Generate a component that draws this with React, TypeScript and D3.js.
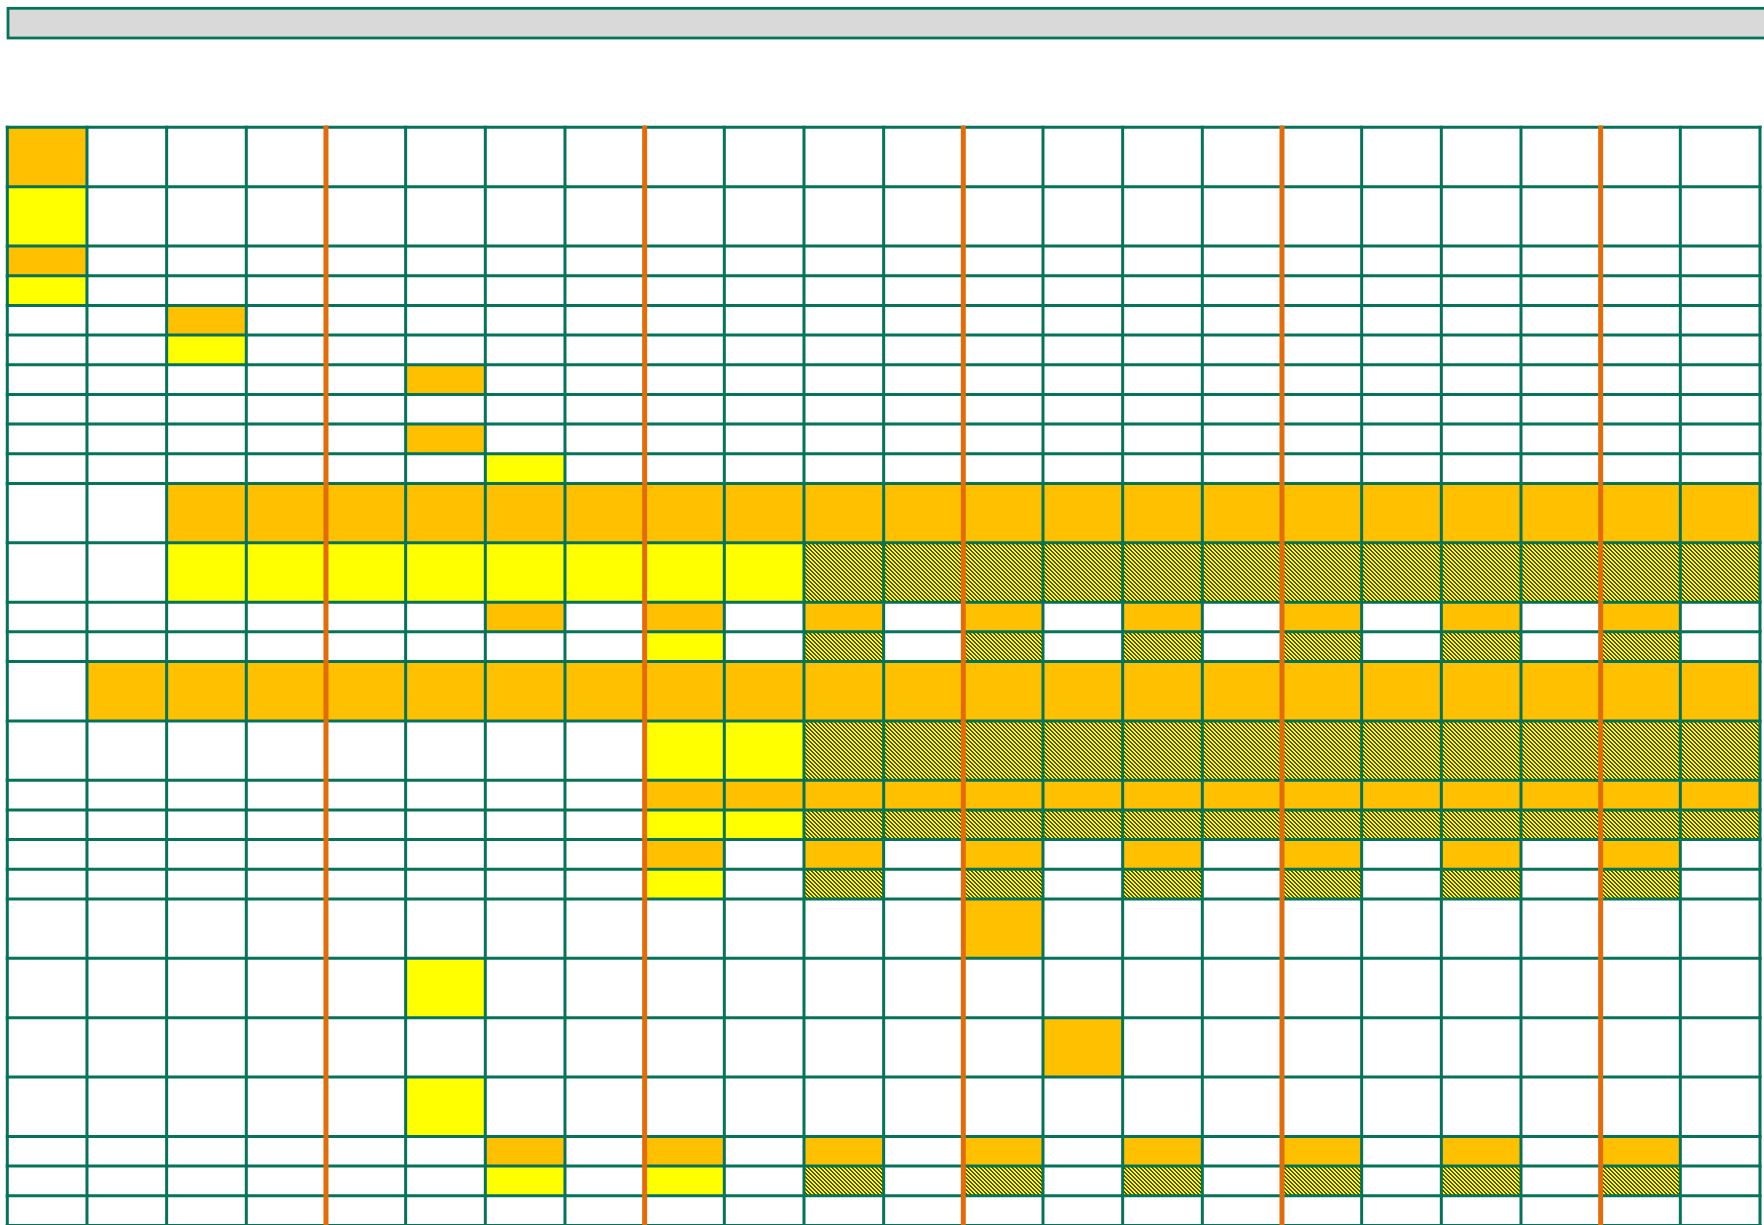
import React, { useRef, useEffect } from "react";
import * as d3 from "d3";

// one entry per row: 2 = tall row, 1 = short row
const rowUnits = [2, 2, 1, 1, 1, 1, 1, 1, 1, 1, 2, 2, 1, 1, 2, 2, 1, 1, 1, 1, 2, 2, 2, 2, 1, 1, 1];

// O = orange, Y = yellow, H = hatched, . = empty (22 columns)
const rowCells = [
  "O.....................",
  "Y.....................",
  "O.....................",
  "Y.....................",
  "..O...................",
  "..Y...................",
  ".....O................",
  "......................",
  ".....O................",
  "......Y...............",
  "..OOOOOOOOOOOOOOOOOOOO",
  "..YYYYYYYYHHHHHHHHHHHH",
  "......O.O.O.O.O.O.O.O.",
  "........Y.H.H.H.H.H.H.",
  ".OOOOOOOOOOOOOOOOOOOOO",
  "........YYHHHHHHHHHHHH",
  "........OOOOOOOOOOOOOO",
  "........YYHHHHHHHHHHHH",
  "........O.O.O.O.O.O.O.",
  "........Y.H.H.H.H.H.H.",
  "............O.........",
  ".....Y................",
  ".............O........",
  ".....Y................",
  "......O.O.O.O.O.O.O.O.",
  "......Y.Y.H.H.H.H.H.H.",
  "......................",
];

const columnCount = 22;
const milestoneColumns = [4, 8, 12, 16, 20];

const GREEN = "#04735a";
const ORANGE_LINE = "#e36c0a";
const fills: Record<string, string> = {
  O: "#ffc000",
  Y: "#ffff00",
  H: "url(#hatch)",
};

const App: React.FC = () => {
  const svgRef = useRef<SVGSVGElement | null>(null);

  useEffect(() => {
    const width = 1764;
    const height = 1225;
    const svg = d3.select(svgRef.current).attr("width", width).attr("height", height);
    svg.selectAll("*").remove();

    const defs = svg.append("defs");
    const pat = defs
      .append("pattern")
      .attr("id", "hatch")
      .attr("patternUnits", "userSpaceOnUse")
      .attr("width", 4)
      .attr("height", 4);
    pat.append("rect").attr("width", 4).attr("height", 4).attr("fill", "#ffff00");
    const darkPx = [
      [0, 0], [1, 0], [1, 1], [2, 1], [2, 2], [3, 2], [3, 3], [0, 3],
    ];
    pat
      .selectAll("rect.d")
      .data(darkPx)
      .join("rect")
      .attr("class", "d")
      .attr("x", (d) => d[0])
      .attr("y", (d) => d[1])
      .attr("width", 1)
      .attr("height", 1)
      .attr("fill", "#4f4f08");

    // header bar
    svg
      .append("rect")
      .attr("x", 8)
      .attr("y", 8.3)
      .attr("width", width + 10)
      .attr("height", 29.7)
      .attr("fill", "#d9d9d9")
      .attr("stroke", GREEN)
      .attr("stroke-width", 2.8);

    const totalUnits = d3.sum(rowUnits);
    const x = d3.scaleLinear().domain([0, columnCount]).range([7.3, 1760]);
    const unit = 29.68;
    const y = d3.scaleLinear().domain([0, totalUnits]).range([127.3, 127.3 + unit * totalUnits]);

    const rowStart = d3.cumsum([0, ...rowUnits]);
    const rows = rowCells.map((s, i) => ({ s, y0: rowStart[i], y1: rowStart[i + 1] }));

    const cells = rows.flatMap((r) =>
      r.s.split("").map((c, j) => ({ c, j, y0: r.y0, y1: r.y1 })).filter((d) => d.c !== ".")
    );

    svg
      .append("g")
      .selectAll("rect")
      .data(cells)
      .join("rect")
      .attr("x", (d) => x(d.j))
      .attr("y", (d) => y(d.y0))
      .attr("width", (d) => x(d.j + 1) - x(d.j))
      .attr("height", (d) => y(d.y1) - y(d.y0))
      .attr("fill", (d) => fills[d.c]);

    const grid = svg.append("g").attr("stroke", GREEN).attr("stroke-width", 3);

    grid
      .selectAll("line.h")
      .data(rowStart)
      .join("line")
      .attr("class", "h")
      .attr("x1", x(0) - 1.5)
      .attr("x2", x(columnCount) + 1.5)
      .attr("y1", (d) => y(d))
      .attr("y2", (d) => y(d));

    grid
      .selectAll("line.v")
      .data(d3.range(columnCount + 1))
      .join("line")
      .attr("class", "v")
      .attr("x1", (d) => x(d))
      .attr("x2", (d) => x(d))
      .attr("y1", y(0) - 1.5)
      .attr("y2", height + 5);

    svg
      .append("g")
      .selectAll("line")
      .data(milestoneColumns)
      .join("line")
      .attr("x1", (d) => x(d))
      .attr("x2", (d) => x(d))
      .attr("y1", y(0) - 1.5)
      .attr("y2", height + 5)
      .attr("stroke", ORANGE_LINE)
      .attr("stroke-width", 5);
  }, []);

  return (
    <svg
      ref={svgRef}
      style={{ position: "absolute", left: 0, top: 0, display: "block", background: "#fff" }}
    />
  );
};

export default App;
